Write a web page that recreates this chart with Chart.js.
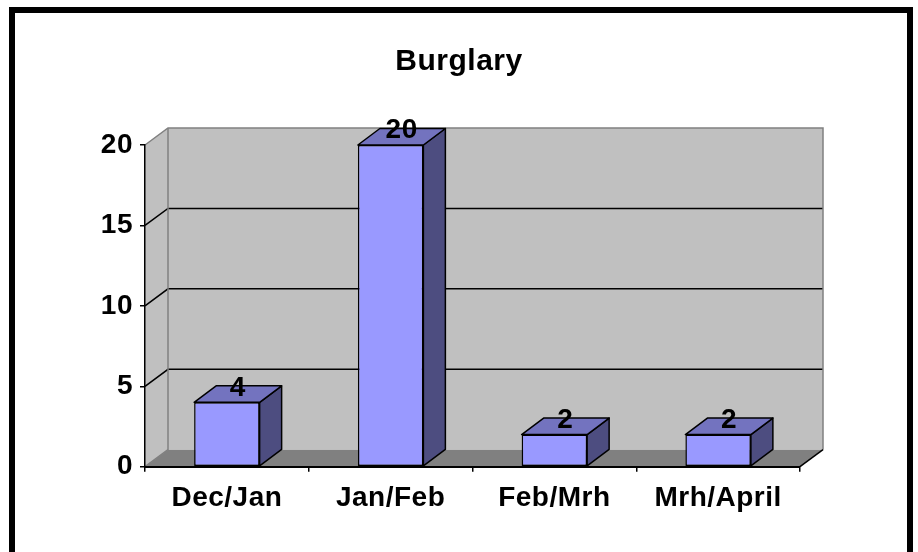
<!DOCTYPE html>
<html>
<head>
<meta charset="utf-8">
<script src="https://cdn.jsdelivr.net/npm/chart.js@4/dist/chart.umd.min.js"></script>
<style>
  html, body { margin: 0; padding: 0; background: #fff; }
  #wrap { width: 918px; height: 552px; position: relative; }
</style>
</head>
<body>
<div id="wrap"><canvas id="graph"></canvas></div>
<script>
// chart data
const categories = ['Dec/Jan', 'Jan/Feb', 'Feb/Mrh', 'Mrh/April'];
const burglary = [4, 20, 2, 2];
const yTicks = [0, 5, 10, 15, 20];

const FONT = '"Liberation Sans", Arial, sans-serif';
// depth of the walls and of the bars (3d look)
const WALL_DX = 23, WALL_DY = -17;
const BAR_DX = 22, BAR_DY = -16.5;

function poly(ctx, pts) {
  ctx.beginPath();
  ctx.moveTo(pts[0][0], pts[0][1]);
  for (let i = 1; i < pts.length; i++) ctx.lineTo(pts[i][0], pts[i][1]);
}

const box3d = {
  id: 'box3d',
  beforeDraw(chart) {
    const ctx = chart.ctx;
    ctx.letterSpacing = '0.5px';
    const area = chart.chartArea;
    const ya = chart.scales.y;
    const L = area.left, R = area.right;
    const T = ya.getPixelForValue(ya.max), B = ya.getPixelForValue(ya.min);
    const dx = WALL_DX, dy = WALL_DY;

    ctx.save();
    // side wall + back wall
    ctx.fillStyle = '#c0c0c0';
    poly(ctx, [[L, T], [L + dx, T + dy], [L + dx, B + dy], [L, B]]);
    ctx.fill();
    ctx.fillRect(L + dx, T + dy, R - L, B - T);
    // floor
    ctx.fillStyle = '#808080';
    poly(ctx, [[L, B], [L + dx, B + dy], [R + dx, B + dy], [R, B]]);
    ctx.fill();

    // gridlines on the walls
    ctx.lineWidth = 1.5;
    ctx.strokeStyle = '#000';
    ya.ticks.forEach(t => {
      if (t.value <= ya.min || t.value >= ya.max) return;
      const y = ya.getPixelForValue(t.value);
      poly(ctx, [[L, y], [L + dx, y + dy], [R + dx, y + dy]]);
      ctx.stroke();
    });

    // wall outlines
    ctx.strokeStyle = '#808080';
    poly(ctx, [[L, T], [L + dx, T + dy], [R + dx, T + dy], [R + dx, B + dy]]);
    ctx.stroke();
    poly(ctx, [[L + dx, T + dy], [L + dx, B + dy], [L, B]]);
    ctx.stroke();
    ctx.strokeStyle = '#000';
    poly(ctx, [[R, B], [R + dx, B + dy]]);
    ctx.stroke();
    ctx.restore();
  },
  beforeDatasetsDraw(chart) {
    const ctx = chart.ctx;
    const meta = chart.getDatasetMeta(0);
    ctx.save();
    ctx.lineWidth = 1.5;
    ctx.strokeStyle = '#000';
    ctx.lineJoin = 'round';
    meta.data.forEach(bar => {
      const p = bar.getProps(['x', 'y', 'base', 'width'], true);
      const l = p.x - p.width / 2, r = p.x + p.width / 2;
      // right side
      ctx.fillStyle = '#4d4d80';
      poly(ctx, [[r, p.y], [r + BAR_DX, p.y + BAR_DY], [r + BAR_DX, p.base + BAR_DY], [r, p.base]]);
      ctx.closePath();
      ctx.fill();
      ctx.stroke();
      // top
      ctx.fillStyle = '#7373bf';
      poly(ctx, [[l, p.y], [l + BAR_DX, p.y + BAR_DY], [r + BAR_DX, p.y + BAR_DY], [r, p.y]]);
      ctx.closePath();
      ctx.fill();
      ctx.stroke();
    });
    ctx.restore();
  },
  afterDatasetsDraw(chart) {
    const ctx = chart.ctx;
    const meta = chart.getDatasetMeta(0);
    ctx.save();
    ctx.font = 'bold 28px ' + FONT;
    ctx.fillStyle = '#000';
    ctx.textAlign = 'center';
    ctx.textBaseline = 'middle';
    meta.data.forEach((bar, i) => {
      ctx.fillText(String(burglary[i]), bar.x + BAR_DX / 2, bar.y + BAR_DY / 2 - 6);
    });
    ctx.restore();
  },
  afterDraw(chart) {
    // black frame round the picture (no bottom edge)
    const ctx = chart.ctx;
    ctx.save();
    ctx.fillStyle = '#000';
    ctx.fillRect(9, 7, 6, 545);
    ctx.fillRect(9, 7, 904, 6);
    ctx.fillRect(907, 7, 6, 545);
    ctx.restore();
  }
};

const config = {
  type: 'bar',
  data: {
    labels: categories,
    datasets: [{
      label: 'Burglary',
      data: burglary,
      backgroundColor: '#9999ff',
      borderColor: '#000',
      borderWidth: 1.5,
      borderSkipped: false,
      categoryPercentage: 1,
      barPercentage: 0.4,
    }]
  },
  options: {
    responsive: true,
    maintainAspectRatio: false,
    animation: false,
    events: [],
    layout: { padding: 0 },
    plugins: {
      legend: { display: false },
      tooltip: { enabled: false },
      title: {
        display: true,
        text: 'Burglary',
        color: '#000',
        font: { family: FONT, size: 30, weight: 'bold' },
        padding: { top: 44, bottom: 65 }
      }
    },
    scales: {
      x: {
        offset: true,
        grid: { offset: true, drawOnChartArea: false, drawTicks: true, tickLength: 5, color: '#000', lineWidth: 1.5 },
        border: { display: true, color: '#000', width: 2 },
        ticks: { color: '#000', font: { family: FONT, size: 28, weight: 'bold' }, padding: 9.5, maxRotation: 0, autoSkip: false },
        afterFit: s => { s.height = 552 - 466.7; }
      },
      y: {
        min: yTicks[0],
        max: yTicks[yTicks.length - 1],
        grid: { drawOnChartArea: false, tickLength: 5, color: '#000', lineWidth: 1.5 },
        border: { display: true, color: '#000', width: 1.5 },
        ticks: { color: '#000', font: { family: FONT, size: 28, weight: 'bold' }, padding: 7 },
        afterBuildTicks: s => { s.ticks = yTicks.map(v => ({ value: v })); },
        afterFit: s => { s.width = 145; }
      },
      y2: {
        position: 'right',
        grid: { display: false },
        border: { display: false },
        ticks: { display: false },
        afterFit: s => { s.width = 918 - 800; }
      }
    }
  },
  plugins: [box3d]
};

const burglaryChart = new Chart(document.getElementById('graph'), config);
</script>
</body>
</html>
